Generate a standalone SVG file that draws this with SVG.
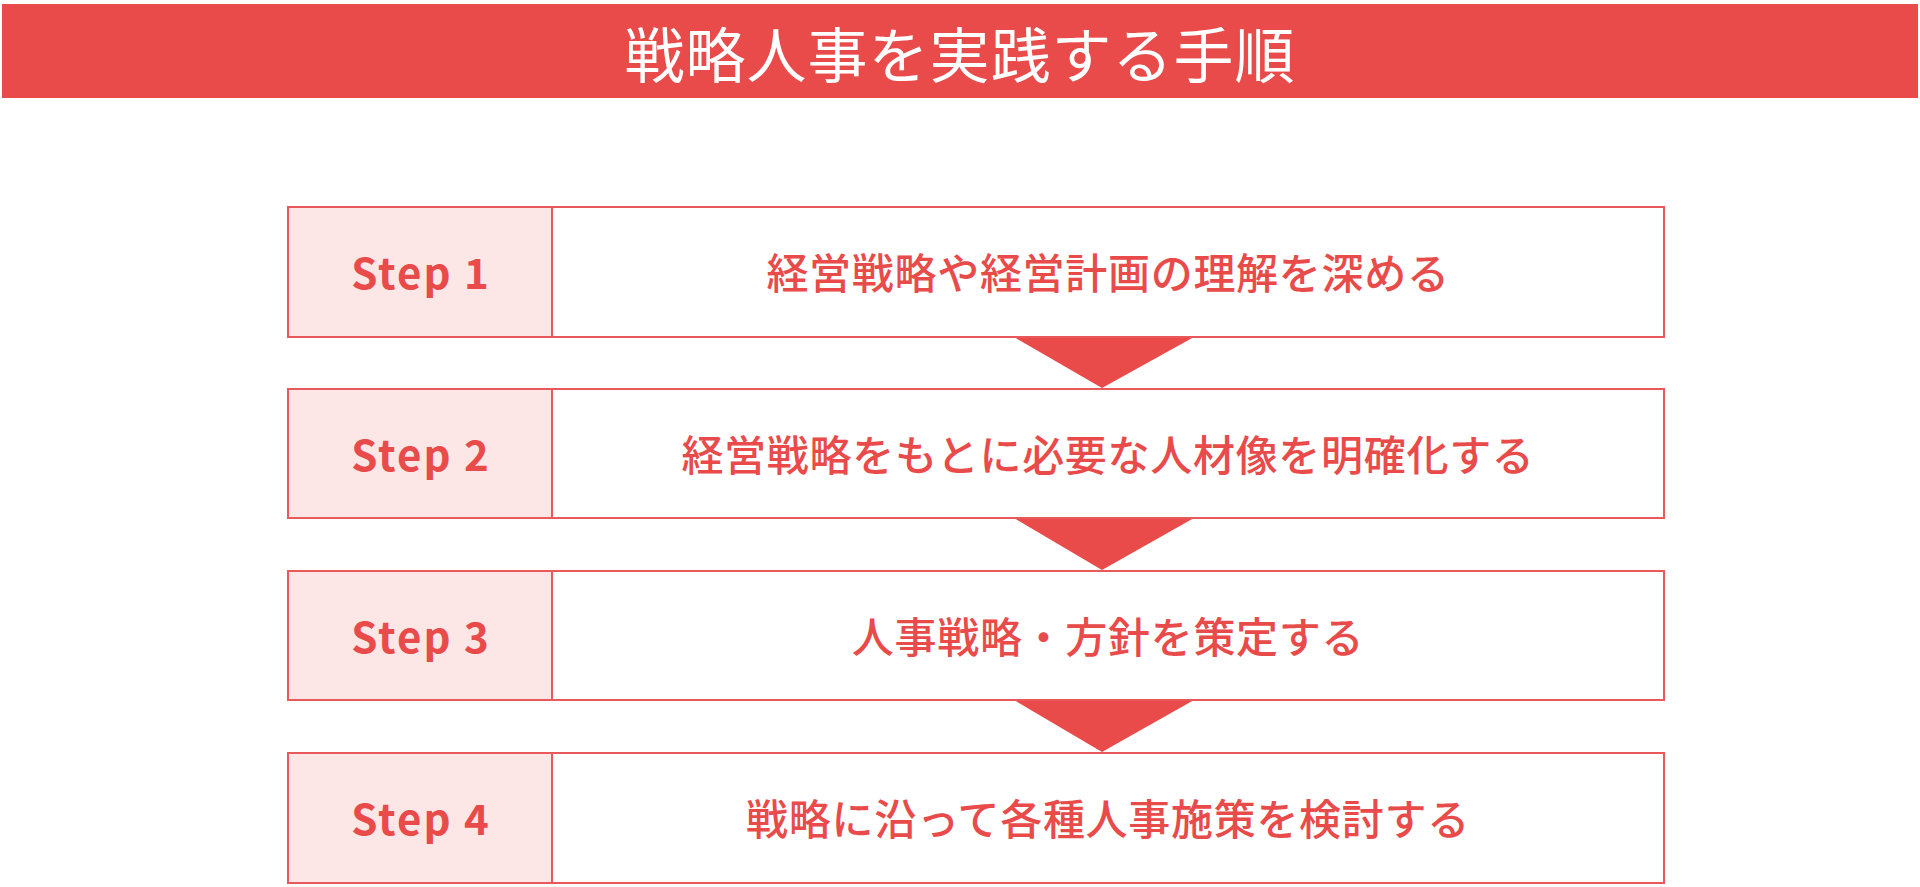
<svg xmlns="http://www.w3.org/2000/svg" width="1920" height="887" viewBox="0 0 1920 887">
<style>
.hdr{fill:#E84B4A}
.title{font-family:"Noto Sans CJK JP","Noto Sans",sans-serif;font-size:60px;fill:#FFFFFF;font-weight:400;text-anchor:middle;dominant-baseline:central;letter-spacing:1px}
.lab{fill:#FCE6E6;stroke:#E9585A;stroke-width:2}
.body{fill:#FFFFFF;stroke:#E9585A;stroke-width:2}
.step{font-family:"Noto Sans CJK JP","Noto Sans",sans-serif;font-size:42px;font-weight:700;fill:#E84B4A;text-anchor:middle;dominant-baseline:central;letter-spacing:2px}
.txt{font-family:"Noto Sans CJK JP","Noto Sans",sans-serif;font-size:42px;font-weight:500;fill:#E84B4A;text-anchor:middle;dominant-baseline:central;letter-spacing:0.7px}
.arr{fill:#E84B4A}
</style>
<rect x="0" y="0" width="1920" height="887" fill="#FFFFFF"/>
<g id="header">
<rect class="hdr" x="2" y="4" width="1916" height="94"/>
<text class="title" x="960" y="51">戦略人事を実践する手順</text>
</g>
<g id="connectors">
<polygon class="arr" points="1014,337 1194,337 1102,388"/>
<polygon class="arr" points="1014,518 1194,518 1102,570"/>
<polygon class="arr" points="1014,700 1194,700 1102,752"/>
</g>
<g id="step1">
<rect class="body" x="288" y="207" width="1376" height="130"/>
<rect class="lab" x="288" y="207" width="264" height="130"/>
<text class="step" x="421" y="270">Step 1</text>
<text class="txt" x="1108" y="270">経営戦略や経営計画の理解を深める</text>
</g>
<g id="step2">
<rect class="body" x="288" y="389" width="1376" height="129"/>
<rect class="lab" x="288" y="389" width="264" height="129"/>
<text class="step" x="421" y="452">Step 2</text>
<text class="txt" x="1108" y="452">経営戦略をもとに必要な人材像を明確化する</text>
</g>
<g id="step3">
<rect class="body" x="288" y="571" width="1376" height="129"/>
<rect class="lab" x="288" y="571" width="264" height="129"/>
<text class="step" x="421" y="634">Step 3</text>
<text class="txt" x="1108" y="634">人事戦略・方針を策定する</text>
</g>
<g id="step4">
<rect class="body" x="288" y="753" width="1376" height="130"/>
<rect class="lab" x="288" y="753" width="264" height="130"/>
<text class="step" x="421" y="816">Step 4</text>
<text class="txt" x="1108" y="816">戦略に沿って各種人事施策を検討する</text>
</g>
</svg>
